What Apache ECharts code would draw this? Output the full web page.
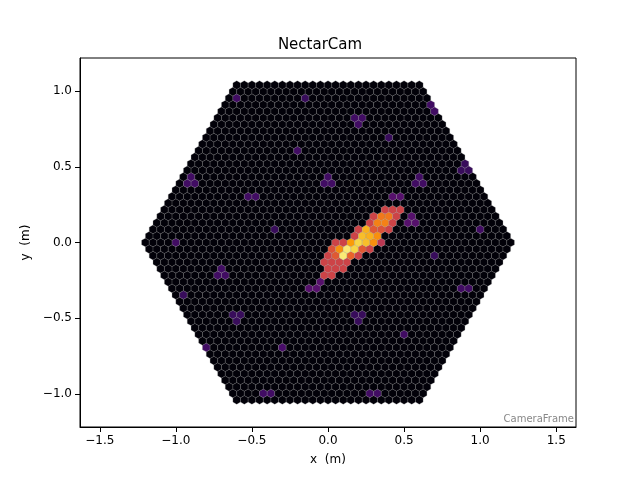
<!DOCTYPE html>
<html><head><meta charset="utf-8">
<script src="https://cdn.jsdelivr.net/npm/echarts@6/dist/echarts.min.js"></script>
<style>html,body{margin:0;background:#fff}#c{width:640px;height:480px}</style>
</head><body><div id="c"></div>
<script>
// Camera geometry (NectarCam-like hex lattice)
const pitch = 0.05, rings = 24;
const xTicks = [-1.5,-1.0,-0.5,0.0,0.5,1.0,1.5];
const yTicks = [-1.0,-0.5,0.0,0.5,1.0];
// Shower image: [x, y, value]
const showerPix = [
 [-0.02,-0.2,0.55],[0.0,-0.15,0.55],[0.03,-0.18,0.55],[0.05,-0.1,0.55],[0.07,-0.15,0.55],[0.02,-0.1,0.55],
 [0.1,-0.13,0.55],[0.15,-0.1,0.55],[0.2,-0.07,0.55],[0.12,0.0,0.55],[0.17,0.04,0.55],[0.22,0.07,0.55],
 [0.25,-0.03,0.55],[0.3,-0.01,0.55],[0.33,0.06,0.55],[0.28,0.1,0.55],[0.32,0.15,0.55],[0.4,0.12,0.55],
 [0.37,0.2,0.55],[0.45,0.21,0.55],[0.42,0.18,0.55],[0.06,-0.02,0.55],[0.35,0.0,0.5],
 [0.07,-0.08,0.62],[0.13,-0.06,0.65],[0.2,-0.03,0.62],[0.24,0.02,0.65],[0.3,0.07,0.62],[0.36,0.1,0.6],
 [0.33,0.12,0.62],[0.39,0.17,0.6],[0.04,-0.06,0.6],
 [0.08,-0.05,0.75],[0.14,-0.01,0.78],[0.29,0.03,0.75],[0.34,0.13,0.72],[0.38,0.17,0.7],
 [0.11,-0.07,0.95],[0.19,-0.01,0.9],[0.22,0.01,0.85],[0.26,0.05,0.82],[0.16,-0.04,0.88]
];
// Scattered dimmer (purple) background pixels
const dimPix = [
 [-0.05,-0.25,0.25],[-0.6,0.95,0.2],[0.7,0.9,0.2],[-0.9,0.4,0.2],[0.9,-0.3,0.2],[-0.3,-0.7,0.22],
 [0.5,-0.6,0.2],[-0.7,-0.2,0.2],[0.6,0.4,0.2],[-0.2,0.6,0.2],[0.2,0.8,0.2],[-1.0,0.0,0.2],
 [1.0,0.1,0.2],[-0.4,-1.0,0.2],[0.3,-1.0,0.2],[0.45,0.3,0.25],[-0.1,-0.3,0.25],[0.55,0.15,0.25],
 [-0.5,0.3,0.2],[0.8,-0.8,0.2],[-0.8,-0.7,0.2],[0.0,0.4,0.2],[-0.35,0.1,0.18],[0.7,-0.1,0.18],
 [-0.6,-0.5,0.18],[0.2,-0.5,0.18],[-0.15,0.95,0.18],[0.9,0.5,0.18],[-0.95,-0.35,0.18],[0.4,0.7,0.18]
];
const baseValue = 0.01;

const pixels = [];
for (let j=-rings;j<=rings;j++) for (let i=-rings;i<=rings;i++) {
  if (Math.abs(i+j)>rings) continue;
  const x=(i+j/2)*pitch, y=j*pitch*Math.sqrt(3)/2;
  let v=baseValue;
  for (const s of showerPix.concat(dimPix)) {
    if (Math.hypot(s[0]-x,s[1]-y)<0.038) v=Math.max(v,s[2]);
  }
  pixels.push([x,y,v]);
}
const inferno=['#000004','#1b0c41','#4a0c6b','#781c6d','#a52c60','#cf4446','#ed6925','#fb9b06','#f7d13d','#fcffa4'];
const r=pitch/Math.sqrt(3);
const fmt=v=>(v<0?'\u2212':'')+Math.abs(v).toFixed(1);
const chart=echarts.init(document.getElementById('c'));
chart.setOption({
  animation:false,
  title:{text:'NectarCam',left:'center',top:33,textStyle:{fontSize:15,fontWeight:'normal',color:'#000',fontFamily:'DejaVu Sans'}},
  grid:{left:80,right:64,top:58,bottom:53},
  xAxis:{type:'value',min:-1.63,max:1.63,name:'x  (m)',nameLocation:'middle',nameGap:27,
    nameTextStyle:{color:'#000',fontSize:12,fontFamily:'DejaVu Sans'},splitLine:{show:false},
    axisLine:{onZero:false,lineStyle:{color:'#000'}},
    axisLabel:{color:'#000',fontSize:12,fontFamily:'DejaVu Sans',customValues:xTicks,formatter:fmt},
    axisTick:{customValues:xTicks,lineStyle:{color:'#000'}}},
  yAxis:{type:'value',min:-1.218,max:1.218,name:'y  (m)',nameLocation:'middle',nameGap:48,
    nameTextStyle:{color:'#000',fontSize:12,fontFamily:'DejaVu Sans'},splitLine:{show:false},
    axisLine:{show:true,onZero:false,lineStyle:{color:'#000'}},
    axisLabel:{color:'#000',fontSize:12,fontFamily:'DejaVu Sans',customValues:yTicks,formatter:fmt},
    axisTick:{show:true,customValues:yTicks,lineStyle:{color:'#000'}}},
  visualMap:{show:false,min:0,max:1,dimension:2,inRange:{color:inferno}},
  graphic:[{type:'rect',shape:{x:80,y:58,width:496,height:369},style:{fill:'none',stroke:'#000',lineWidth:1},z:100},
    {type:'text',right:66,top:414,style:{text:'CameraFrame',fill:'#888',fontSize:10,fontFamily:'DejaVu Sans'}}],
  series:[{type:'custom',data:pixels,
    renderItem:(params,api)=>{
      const x=api.value(0),y=api.value(1);
      const pts=[];
      for(let k=0;k<6;k++){const a=Math.PI/2+k*Math.PI/3;pts.push(api.coord([x+r*Math.cos(a),y+r*Math.sin(a)]));}
      return {type:'polygon',shape:{points:pts},style:{fill:api.visual('color'),stroke:'rgba(140,140,140,0.5)',lineWidth:0.5}};
    }}]
});
</script></body></html>
